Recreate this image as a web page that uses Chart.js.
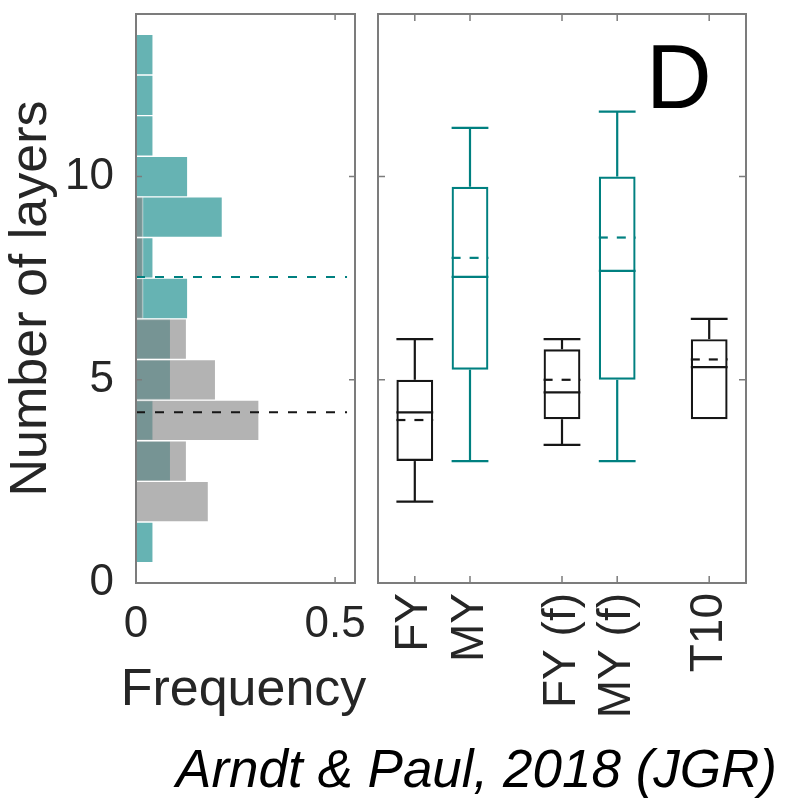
<!DOCTYPE html>
<html>
<head>
<meta charset="utf-8">
<title>Number of layers</title>
<script src="https://cdn.jsdelivr.net/npm/chart.js@4.4.1/dist/chart.umd.min.js"></script>
<style>
  html, body { margin: 0; padding: 0; background: #fff; }
  body { position: relative; width: 809px; height: 799px; overflow: hidden; }
  canvas { position: absolute; top: 0; }
  #hist { left: 0; }
  #box { left: 365px; }
  #cite {
    position: absolute; right: 32px; top: 742px;
    font: italic 53px 'Liberation Sans', Arial, Helvetica, sans-serif;
    line-height: 1; color: #000; white-space: nowrap;
  }
</style>
</head>
<body>
<canvas id="hist" width="380" height="720"></canvas>
<canvas id="box" width="444" height="740"></canvas>
<div id="cite">Arndt &amp; Paul, 2018 (JGR)</div>
<script>
// Histogram of layer counts (fraction of profiles in each one-layer bin)
const layerBins = [1, 2, 3, 4, 5, 6, 7, 8, 9, 10, 11, 12, 13];
const freqMY = [0.043, 0, 0.087, 0.043, 0.087, 0.087, 0.130, 0.043, 0.217, 0.130, 0.043, 0.043, 0.043];
const freqFY = [0, 0.182, 0.127, 0.309, 0.200, 0.127, 0.018, 0.018, 0.018, 0, 0, 0, 0];

// Box-plot summaries per group
const groupLabels = ['FY', 'MY', 'FY (f)', 'MY (f)', 'T10'];
const groupPos    = [1, 1.6, 2.6, 3.2, 4.2];
const groupIsMY   = [false, true, false, true, false];
const whiskerLow  = [2.0, 3.0, 3.4, 3.0, 4.03];
const boxQ1       = [3.0, 5.25, 4.03, 5.0, 4.03];
const boxMedian   = [4.2, 7.53, 4.69, 7.68, 5.31];
const boxQ3       = [5.0, 9.75, 5.75, 10.0, 6.0];
const whiskerHigh = [6.0, 11.2, 6.0, 11.6, 6.5];
const boxMean     = [4.01, 8.0, 5.0, 8.5, 5.5];

// Axis ticks
const layerTicks = [0, 5, 10];
const freqTicks = [0, 0.5];

const FAMILY = "'Liberation Sans', Arial, Helvetica, sans-serif";
const TEAL = '#008080';
const INK = '#161616';
const LABEL = '#262626';
const FRAME = '#7c7c7c';
const BOX_W = 0.4;        // box width in x-axis units
const GUIDE_END = 0.53;   // frequency where the median guides stop

// Keep each axis at a fixed thickness with no extra edge padding
function fixHeight(h) {
  return s => { s.height = h; s.paddingLeft = 0; s.paddingRight = 0; };
}
function fixWidth(w) {
  return s => { s.width = w; s.paddingTop = 0; s.paddingBottom = 0; };
}

// Axes frame with inward tick marks on all four sides
function panelFrame(xTickVals, yTickVals, len) {
  return {
    id: 'panelFrame',
    afterDraw(chart) {
      const { ctx, chartArea: a, scales } = chart;
      ctx.save();
      ctx.strokeStyle = FRAME;
      ctx.lineWidth = 1.5;
      ctx.beginPath();
      for (const v of yTickVals) {
        const y = scales.y.getPixelForValue(v);
        if (y <= a.top + 1 || y >= a.bottom - 1) continue;
        ctx.moveTo(a.left, y); ctx.lineTo(a.left + len, y);
        ctx.moveTo(a.right, y); ctx.lineTo(a.right - len, y);
      }
      for (const v of xTickVals) {
        const x = scales.x.getPixelForValue(v);
        if (x <= a.left + 1 || x >= a.right - 1) continue;
        ctx.moveTo(x, a.bottom); ctx.lineTo(x, a.bottom - len);
        ctx.moveTo(x, a.top); ctx.lineTo(x, a.top + len);
      }
      ctx.stroke();
      ctx.lineWidth = 2;
      ctx.strokeRect(a.left, a.top, a.right - a.left, a.bottom - a.top);
      ctx.restore();
    }
  };
}

// Frequency axis caption, centred under the histogram axis at natural width
const freqCaption = {
  id: 'freqCaption',
  afterDraw(chart) {
    const { ctx, scales: { x } } = chart;
    ctx.save();
    ctx.font = `52px ${FAMILY}`;
    ctx.fillStyle = LABEL;
    ctx.textAlign = 'center';
    ctx.textBaseline = 'alphabetic';
    ctx.fillText('Frequency', (x.left + x.right) / 2 - 2, x.top + 122);
    ctx.restore();
  }
};

// Dashed median guides across the histogram panel
const medianGuides = {
  id: 'medianGuides',
  afterDatasetsDraw(chart) {
    const { ctx, scales: { x, y } } = chart;
    const guides = [[boxMedian[1], TEAL], [boxMedian[0], INK]];
    ctx.save();
    ctx.lineWidth = 2;
    ctx.setLineDash([9, 10]);
    for (const [v, c] of guides) {
      const py = y.getPixelForValue(v);
      ctx.strokeStyle = c;
      ctx.beginPath();
      ctx.moveTo(x.getPixelForValue(0), py);
      ctx.lineTo(x.getPixelForValue(GUIDE_END), py);
      ctx.stroke();
    }
    ctx.restore();
  }
};

// Whiskers, caps, medians and dashed means on top of the boxes
const boxDetails = {
  id: 'boxDetails',
  afterDatasetsDraw(chart) {
    const { ctx, scales: { x, y } } = chart;
    ctx.save();
    ctx.lineWidth = 2.2;
    groupPos.forEach((p, i) => {
      const c = groupIsMY[i] ? TEAL : INK;
      const xc = x.getPixelForValue(p);
      const xl = x.getPixelForValue(p - BOX_W / 2);
      const xr = x.getPixelForValue(p + BOX_W / 2);
      const seg = (x1, y1, x2, y2) => { ctx.beginPath(); ctx.moveTo(x1, y1); ctx.lineTo(x2, y2); ctx.stroke(); };
      ctx.strokeStyle = c;
      ctx.setLineDash([]);
      if (whiskerHigh[i] > boxQ3[i]) {
        seg(xc, y.getPixelForValue(boxQ3[i]), xc, y.getPixelForValue(whiskerHigh[i]));
        seg(xl, y.getPixelForValue(whiskerHigh[i]), xr, y.getPixelForValue(whiskerHigh[i]));
      }
      if (whiskerLow[i] < boxQ1[i]) {
        seg(xc, y.getPixelForValue(boxQ1[i]), xc, y.getPixelForValue(whiskerLow[i]));
        seg(xl, y.getPixelForValue(whiskerLow[i]), xr, y.getPixelForValue(whiskerLow[i]));
      }
      seg(xl, y.getPixelForValue(boxMedian[i]), xr, y.getPixelForValue(boxMedian[i]));
      ctx.setLineDash([9, 9]);
      seg(xl, y.getPixelForValue(boxMean[i]), xr, y.getPixelForValue(boxMean[i]));
    });
    ctx.restore();
  }
};

// Panel letter
const panelLetter = {
  id: 'panelLetter',
  afterDraw(chart) {
    const { ctx } = chart;
    ctx.save();
    ctx.font = `91px ${FAMILY}`;
    ctx.fillStyle = '#000';
    ctx.textAlign = 'left';
    ctx.textBaseline = 'alphabetic';
    ctx.fillText('D', 281, 108);
    ctx.restore();
  }
};

// Left panel: horizontal histograms
new Chart(document.getElementById('hist'), {
  type: 'bar',
  data: {
    datasets: [
      {
        label: 'FY',
        data: layerBins.map((b, i) => ({ x: freqFY[i], y: b })),
        backgroundColor: 'rgba(128,128,128,0.6)',
        borderColor: 'rgba(255,255,255,0.55)',
        borderWidth: 1,
        order: 1
      },
      {
        label: 'MY',
        data: layerBins.map((b, i) => ({ x: freqMY[i], y: b })),
        backgroundColor: 'rgba(0,128,128,0.6)',
        borderColor: 'rgba(255,255,255,0.55)',
        borderWidth: 1,
        order: 2
      }
    ]
  },
  options: {
    indexAxis: 'y',
    responsive: false,
    animation: false,
    devicePixelRatio: 1,
    layout: { padding: { top: 14, right: 25, left: 0, bottom: 0 } },
    plugins: { legend: { display: false }, tooltip: { enabled: false } },
    datasets: { bar: { grouped: false, barPercentage: 1, categoryPercentage: 1 } },
    scales: {
      x: {
        type: 'linear', min: 0, max: 0.55, offset: false,
        grid: { display: false, drawTicks: false }, border: { display: false },
        afterBuildTicks: s => { s.ticks = freqTicks.map(v => ({ value: v })); },
        afterFit: fixHeight(137),
        ticks: {
          font: { family: FAMILY, size: 44 }, color: LABEL, padding: 15,
          maxRotation: 0, autoSkip: false, callback: v => String(v)
        }
      },
      y: {
        type: 'linear', min: 0, max: 14, offset: false,
        grid: { display: false, drawTicks: false }, border: { display: false },
        afterBuildTicks: s => { s.ticks = layerTicks.map(v => ({ value: v })); },
        afterFit: fixWidth(136),
        ticks: {
          font: { family: FAMILY, size: 44 }, color: LABEL, padding: 22,
          autoSkip: false, callback: v => String(v)
        },
        title: {
          display: true, text: 'Number of layers', color: LABEL,
          font: { family: FAMILY, size: 52 }, padding: { top: 0, bottom: 0 }
        }
      }
    }
  },
  plugins: [medianGuides, panelFrame(freqTicks, layerTicks, 6), freqCaption]
});

// Right panel: box plots per group
new Chart(document.getElementById('box'), {
  type: 'bar',
  data: {
    datasets: [{
      label: 'IQR',
      data: groupPos.map((p, i) => ({ x: p, y: [boxQ1[i], boxQ3[i]] })),
      backgroundColor: 'rgba(0,0,0,0)',
      borderColor: groupIsMY.map(m => (m ? TEAL : INK)),
      borderWidth: 2.2,
      borderSkipped: false,
      barPercentage: BOX_W / 0.6,
      categoryPercentage: 1
    }]
  },
  options: {
    responsive: false,
    animation: false,
    devicePixelRatio: 1,
    layout: { padding: { top: 14, right: 63, left: 13, bottom: 0 } },
    plugins: { legend: { display: false }, tooltip: { enabled: false } },
    scales: {
      x: {
        type: 'linear', min: 0.6, max: 4.6, offset: false,
        grid: { display: false, drawTicks: false }, border: { display: false },
        afterBuildTicks: s => { s.ticks = groupPos.map(v => ({ value: v })); },
        afterFit: fixHeight(157),
        ticks: {
          font: { family: FAMILY, size: 46 }, color: LABEL, padding: 10,
          minRotation: 90, maxRotation: 90, autoSkip: false,
          callback: (v, i) => groupLabels[i]
        }
      },
      y: { type: 'linear', display: false, min: 0, max: 14 }
    }
  },
  plugins: [boxDetails, panelFrame(groupPos, layerTicks, 7), panelLetter]
});
</script>
</body>
</html>
